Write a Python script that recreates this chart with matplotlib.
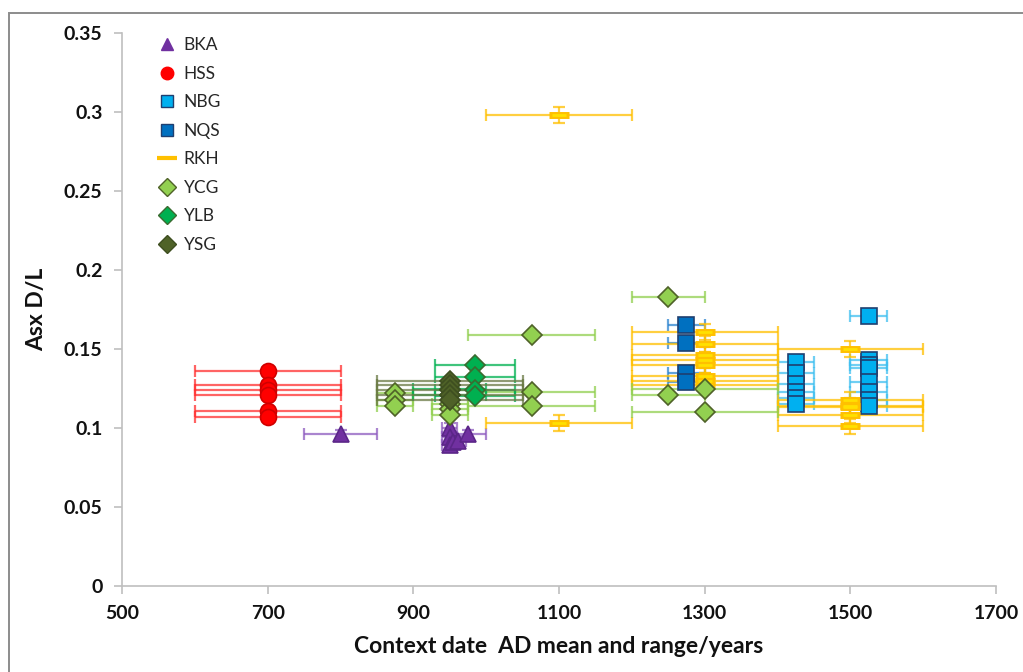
import matplotlib
matplotlib.use("Agg")
import matplotlib.pyplot as plt
from matplotlib.lines import Line2D
from matplotlib.patches import Rectangle

plt.rcParams['font.family'] = ['Lato', 'DejaVu Sans']

# ---- data: context date (AD mean), half range (years), Asx D/L ----
bka_x = [800, 950, 950, 950, 955, 962, 975]
bka_xerr = [50, 10, 10, 10, 10, 10, 25]
bka_y = [0.096, 0.100, 0.094, 0.089, 0.091, 0.092, 0.096]

hss_x = [700, 700, 700, 700, 700, 700]
hss_xerr = [100, 100, 100, 100, 100, 100]
hss_y = [0.136, 0.127, 0.124, 0.121, 0.111, 0.107]

nbg_x = [1425, 1425, 1425, 1425, 1425, 1425,
         1525, 1525, 1525, 1525, 1525, 1525, 1525, 1525]
nbg_xerr = [25] * 14
nbg_y = [0.142, 0.135, 0.128, 0.123, 0.119, 0.115,
         0.171, 0.143, 0.140, 0.138, 0.129, 0.123, 0.118, 0.114]

nqs_x = [1275, 1275, 1275, 1275]
nqs_xerr = [25, 25, 25, 25]
nqs_y = [0.165, 0.154, 0.135, 0.129]

rkh_x = [1100, 1100,
         1300, 1300, 1300, 1300, 1300, 1300, 1300, 1300,
         1500, 1500, 1500, 1500, 1500, 1500]
rkh_xerr = [100] * 16
rkh_y = [0.298, 0.103,
         0.161, 0.153, 0.146, 0.143, 0.140, 0.133, 0.130, 0.127,
         0.150, 0.118, 0.114, 0.113, 0.108, 0.101]
rkh_yerr = [0.005] * 16

ycg_x = [875, 875, 875, 950, 950, 950, 1062.5, 1062.5, 1062.5,
         1250, 1250, 1300, 1300]
ycg_xerr = [25, 25, 25, 25, 25, 25, 87.5, 87.5, 87.5, 50, 50, 100, 100]
ycg_y = [0.122, 0.118, 0.114, 0.115, 0.112, 0.108, 0.159, 0.123, 0.114,
         0.183, 0.121, 0.125, 0.110]

ylb_x = [950, 950, 985, 985, 985, 985]
ylb_xerr = [50, 50, 55, 55, 55, 55]
ylb_y = [0.125, 0.121, 0.140, 0.132, 0.124, 0.120]

ysg_x = [950, 950, 950, 950, 950]
ysg_xerr = [100, 100, 100, 100, 100]
ysg_y = [0.130, 0.127, 0.124, 0.121, 0.118]

series = [
    dict(label='BKA', x=bka_x, y=bka_y, xerr=bka_xerr, yerr=[0.003] * 7,
         marker='^', ms=11, fc='#7030A0', ec='#5B2688', bar='#8E5CC0'),
    dict(label='HSS', x=hss_x, y=hss_y, xerr=hss_xerr, yerr=None,
         marker='o', ms=11.5, fc='#FF0000', ec='#D00000', bar='#FF3030'),
    dict(label='NBG', x=nbg_x, y=nbg_y, xerr=nbg_xerr, yerr=None,
         marker='s', ms=11, fc='#00B0F0', ec='#1F3F70', bar='#40C0F0'),
    dict(label='NQS', x=nqs_x, y=nqs_y, xerr=nqs_xerr, yerr=None,
         marker='s', ms=11, fc='#0070C0', ec='#1F3F70', bar='#2E85D0'),
    dict(label='RKH', x=rkh_x, y=rkh_y, xerr=rkh_xerr, yerr=rkh_yerr,
         marker='_', ms=14, fc='#FFE000', ec='#FFC000', bar='#FFC000'),
    dict(label='YCG', x=ycg_x, y=ycg_y, xerr=ycg_xerr, yerr=None,
         marker='D', ms=10, fc='#92D050', ec='#4F6228', bar='#92D050'),
    dict(label='YLB', x=ylb_x, y=ylb_y, xerr=ylb_xerr, yerr=None,
         marker='D', ms=10, fc='#00B050', ec='#3A6B30', bar='#00B050'),
    dict(label='YSG', x=ysg_x, y=ysg_y, xerr=ysg_xerr, yerr=None,
         marker='D', ms=10, fc='#4F6228', ec='#3E4E20', bar='#6B7A45'),
]

fig = plt.figure(figsize=(10.23, 6.72), dpi=100)
ax = fig.add_axes([122 / 1023, 1 - 586 / 672, 874 / 1023, 553 / 672])

# thin grey frame around the chart area
fig.patches.append(Rectangle((9 / 1023, -0.1), 1.2, 1 - 13 / 672 + 0.1,
                             transform=fig.transFigure, fill=False,
                             edgecolor='#8C8C8C', lw=1.4, zorder=0))

# error bars first, markers on top
for s in series:
    ax.errorbar(s['x'], s['y'], xerr=s['xerr'], yerr=s['yerr'], fmt='none',
                ecolor=s['bar'], elinewidth=1.6, capsize=4, capthick=1.6,
                alpha=0.75, zorder=2)

handles = []
for s in series:
    if s['marker'] == '_':
        ax.plot(s['x'], s['y'], linestyle='none', marker=s['marker'],
                ms=s['ms'], mew=5, color=s['ec'], zorder=3)
        ax.plot(s['x'], s['y'], linestyle='none', marker=s['marker'],
                ms=s['ms'] - 4, mew=2, color=s['fc'], zorder=3)
        h = Line2D([], [], linestyle='none', marker='_', ms=14, mew=3,
                   color='#FFE000', markeredgecolor='#FFC000')
    else:
        ax.plot(s['x'], s['y'], linestyle='none', marker=s['marker'],
                ms=s['ms'], mfc=s['fc'], mec=s['ec'], mew=1.2, zorder=3)
        h = Line2D([], [], linestyle='none', marker=s['marker'], ms=9,
                   mfc=s['fc'], mec=s['fc'] if s['marker'] in '^o' else s['ec'],
                   mew=1.0)
    handles.append(h)

leg = ax.legend(handles, [s['label'] for s in series], loc='upper left',
                bbox_to_anchor=(0.035, 1.005), frameon=False, fontsize=12.5,
                handlelength=0.9, handletextpad=0.5, labelspacing=0.72,
                borderaxespad=0.0)
for t in leg.get_texts():
    t.set_color('#262626')

ax.set_xlim(500, 1700)
ax.set_ylim(0, 0.35)
ax.set_xticks([500, 700, 900, 1100, 1300, 1500, 1700])
ax.set_yticks([0, 0.05, 0.1, 0.15, 0.2, 0.25, 0.3, 0.35])
ax.set_yticklabels(['0', '0.05', '0.1', '0.15', '0.2', '0.25', '0.3', '0.35'])

for side in ('top', 'right'):
    ax.spines[side].set_visible(False)
for side in ('left', 'bottom'):
    ax.spines[side].set_color('#BFBFBF')
    ax.spines[side].set_linewidth(1.2)
ax.tick_params(axis='both', direction='out', length=6, width=1.2,
               color='#BFBFBF', labelsize=14, labelcolor='#111111', pad=8)
for lab in ax.get_xticklabels() + ax.get_yticklabels():
    lab.set_fontweight('bold')

ax.set_xlabel('Context date  AD mean and range/years', fontsize=16.5,
              fontweight='bold', color='#111111', labelpad=10)
ax.set_ylabel('Asx D/L', fontsize=16.5, fontweight='bold', color='#111111',
              labelpad=12)

fig.savefig('out.png', dpi=100)
